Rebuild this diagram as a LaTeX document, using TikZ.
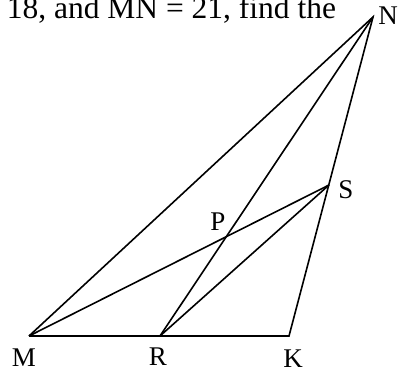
\documentclass[tikz,border=0pt]{standalone}
\usepackage{fontspec}
\setmainfont{Liberation Serif}
\usetikzlibrary{positioning}

\begin{document}
\begin{tikzpicture}[x=1pt, y=-1pt, line width=1.6pt, every node/.style={inner sep=0pt, font=\fontsize{27}{27}\selectfont}]
\useasboundingbox (0,0) rectangle (399,368);
\coordinate (M) at (29,336);
\coordinate (R) at (160,336);
\coordinate (K) at (289,336);
\coordinate (N) at (373,17);
\coordinate (S) at (329,185);
\coordinate (P) at (intersection of N--R and M--S);
\node[anchor=base west, font=\fontsize{31.5}{31.5}\selectfont] (question) at (6,18) {18, and MN = 21, find the};
\node (labN) at (388,16) {N};
\node (labM) at (24,358) {M};
\node (labR) at (158,357) {R};
\node (labK) at (293,359) {K};
\node (labS) at (346,190) {S};
\node (labP) at (218,222) {P};
\draw (M) -- (K) -- (N) -- (M);
\draw (N) -- (R);
\draw (M) -- (S);
\draw (R) -- (S);
\end{tikzpicture}
\end{document}
